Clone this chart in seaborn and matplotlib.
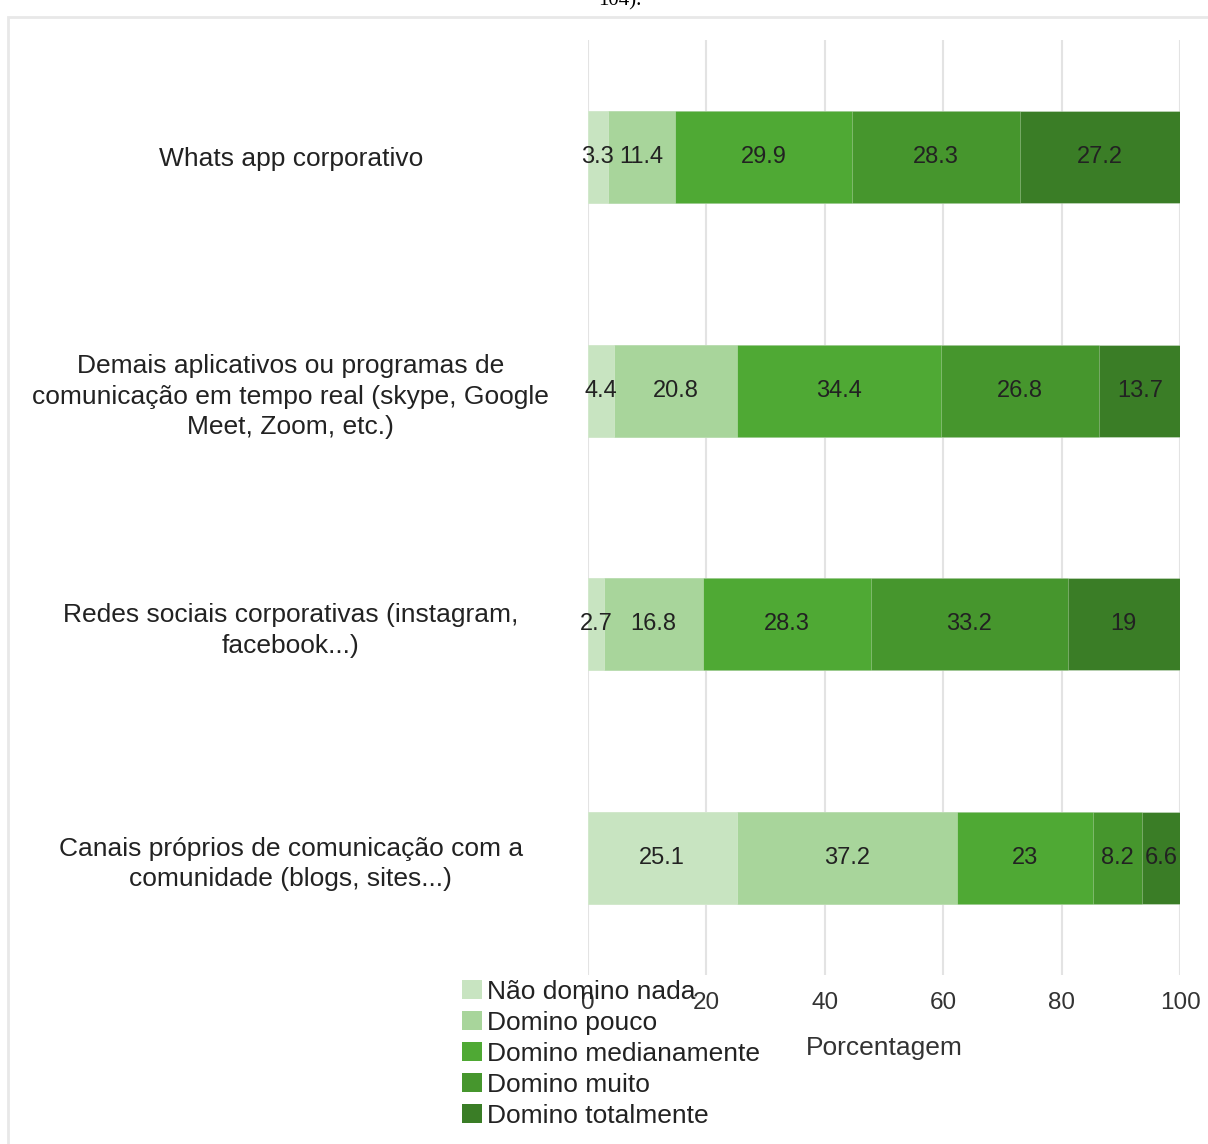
import matplotlib
matplotlib.use("Agg")
import matplotlib.pyplot as plt
import matplotlib.patches as mpatches
import seaborn as sns
import pandas as pd
import numpy as np

categories = [
    "Whats app corporativo",
    "Demais aplicativos ou programas de\ncomunicação em tempo real (skype, Google\nMeet, Zoom, etc.)",
    "Redes sociais corporativas (instagram,\nfacebook...)",
    "Canais próprios de comunicação com a\ncomunidade (blogs, sites...)",
]
levels = [
    "Não domino nada",
    "Domino pouco",
    "Domino medianamente",
    "Domino muito",
    "Domino totalmente",
]
nao_domino_nada = [3.3, 4.4, 2.7, 25.1]
domino_pouco = [11.4, 20.8, 16.8, 37.2]
domino_medianamente = [29.9, 34.4, 28.3, 23.0]
domino_muito = [28.3, 26.8, 33.2, 8.2]
domino_totalmente = [27.2, 13.7, 19.0, 6.6]
tick_values = [0, 20, 40, 60, 80, 100]

series = [nao_domino_nada, domino_pouco, domino_medianamente, domino_muito, domino_totalmente]
colors = ["#c8e4c1", "#a8d59b", "#4fa934", "#46962d", "#3a7d26"]

sns.set_theme(style="white")
plt.rcParams["font.family"] = ["Liberation Sans", "DejaVu Sans"]

W, H = 1208, 1144
fig = plt.figure(figsize=(W / 100, H / 100), dpi=100)
ax = fig.add_axes([588 / W, 1 - 975 / H, (1180 - 588) / W, (975 - 40) / H])

vals = np.array(series)
cum = np.cumsum(vals, axis=0)

# stacked bars: draw cumulative totals from the outermost layer inward
for i in range(len(levels) - 1, -1, -1):
    df = pd.DataFrame({"cat": categories, "val": cum[i]})
    sns.barplot(data=df, x="val", y="cat", color=colors[i], width=0.393,
                saturation=1, orient="h", ax=ax, zorder=2,
                edgecolor="#ffffff55", linewidth=0.6)

# value labels at segment centres
for i in range(len(levels)):
    for j in range(len(categories)):
        v = vals[i, j]
        start = cum[i, j] - v
        ax.text(start + v / 2, j, f"{v:g}", ha="center", va="center",
                fontsize=17, color="#222222", zorder=3)

ax.set_xlim(0, 100)
ax.set_ylim(3.5, -0.5)
ax.set_xticks(tick_values)
ax.set_xticklabels([str(t) for t in tick_values])
ax.grid(axis="x", color="#e3e3e3", linewidth=1.5, zorder=0)
ax.grid(axis="y", visible=False)
for s in ax.spines.values():
    s.set_visible(False)
ax.tick_params(axis="x", length=0, pad=12, labelsize=17.5, labelcolor="#333333")
ax.tick_params(axis="y", length=0, pad=214, labelsize=19, labelcolor="#222222")
for lbl in ax.get_yticklabels():
    lbl.set_ha("center")
    lbl.set_multialignment("center")
    lbl.set_linespacing(1.36)
ax.set_ylabel("")
ax.set_xlabel("Porcentagem", fontsize=19, color="#333333", labelpad=16)

handles = [mpatches.Patch(facecolor=c, edgecolor="none") for c in colors]
leg = fig.legend(handles, levels, loc="upper left",
                 bbox_to_anchor=(459 / W, 1 - 977 / H), frameon=False,
                 fontsize=19, handlelength=0.78, handleheight=0.78,
                 handletextpad=0.18, labelspacing=0.26, borderpad=0.1,
                 borderaxespad=0)
for t in leg.get_texts():
    t.set_color("#222222")

# outer frame
fig.patches.append(mpatches.Rectangle((8 / W, -0.05), 1.2, 1 - 17 / H + 0.05,
                                      transform=fig.transFigure, fill=False,
                                      edgecolor="#e8e8e8", linewidth=2))
fig.text(620 / W, 1 - 1 / H, "104).", ha="center", va="center",
         fontsize=15, family=["Liberation Serif", "DejaVu Serif"], color="#000000")

fig.savefig("out.png", dpi=100)
